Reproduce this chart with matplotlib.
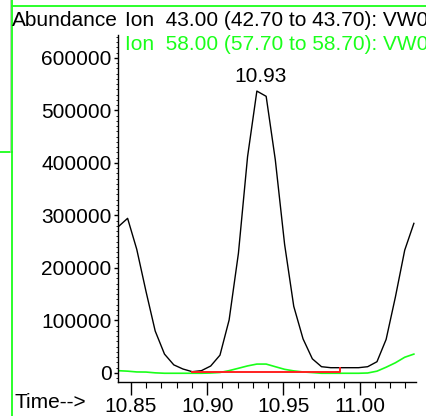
import matplotlib
matplotlib.use('Agg')
import matplotlib.pyplot as plt
from matplotlib.ticker import MultipleLocator
from matplotlib.lines import Line2D

plt.rcParams['font.family'] = ['Liberation Sans', 'DejaVu Sans']

# retention time (min)
times = [10.8417, 10.8478, 10.8538, 10.8599, 10.8659, 10.8720, 10.8781, 10.8841,
         10.8902, 10.8962, 10.9023, 10.9084, 10.9144, 10.9205, 10.9265, 10.9326,
         10.9387, 10.9447, 10.9508, 10.9568, 10.9629, 10.9690, 10.9750, 10.9811,
         10.9871, 10.9932, 10.9993, 11.0053, 11.0114, 11.0174, 11.0235, 11.0296,
         11.0356]

# Ion 43.00 abundance
ion43 = [278700, 294600, 235600, 155000, 80000, 36000, 15500, 7600,
         2500, 4400, 13300, 34000, 101000, 228000, 412000, 537000,
         527000, 406000, 245000, 127000, 65000, 27000, 12000, 10100,
         10100, 10100, 10100, 12000, 21500, 64000, 145000, 234000,
         285000]

# Ion 58.00 abundance
ion58 = [4400, 3500, 2000, 1800, 300, -500, -500, -500,
         -500, -500, 0, 1000, 4500, 9000, 13500, 17000,
         17000, 12000, 7000, 4000, 2000, 800, -500, -500,
         -500, -500, -500, 0, 3500, 11000, 19500, 30000,
         36000]

# integration baseline
base_t = [10.8900, 10.9874, 10.9874]
base_v = [1500, 1500, 9500]

peak_t = 10.9326
peak_v = 537000
peak_label = '10.93'

green = '#1aff1a'

fig = plt.figure(figsize=(4.26, 4.16), dpi=100)
ax = fig.add_axes([118/426, 34/416, 298/426, 347/416])

ax.plot(times, ion43, c='k', lw=1.0)
ax.plot(times, ion58, c=green, lw=1.2)
ax.plot(base_t, base_v, c='#ff2020', lw=1.4)

ax.annotate(peak_label, (peak_t, peak_v), xytext=(2.5, 4), textcoords='offset points',
            ha='center', va='bottom', fontsize=15)

ax.set_xlim(10.8415, 11.037)
ax.set_ylim(-17143, 643800)

ax.spines['top'].set_visible(False)
ax.spines['right'].set_visible(False)
ax.spines['left'].set_linewidth(1.0)
ax.spines['bottom'].set_linewidth(1.0)

ax.xaxis.set_major_locator(MultipleLocator(0.05))
ax.xaxis.set_minor_locator(MultipleLocator(0.01))
ax.yaxis.set_major_locator(MultipleLocator(100000))
ax.yaxis.set_minor_locator(MultipleLocator(10000))
ax.xaxis.set_major_formatter(plt.FuncFormatter(lambda v, p: '%.2f' % v))
ax.yaxis.set_major_formatter(plt.FuncFormatter(lambda v, p: '%d' % v))

ax.tick_params(axis='x', which='major', direction='out', length=9, width=1, pad=2, labelsize=15)
ax.tick_params(axis='x', which='minor', direction='out', length=4.5, width=0.8)
ax.tick_params(axis='y', which='major', direction='out', length=3, width=1, pad=1.5, labelsize=15)
ax.tick_params(axis='y', which='minor', direction='out', length=1.5, width=0.6)

# header text
fig.text(12/426, 1 - 20/416, 'Abundance', fontsize=15, va='center', ha='left')
fig.text(125/426, 1 - 20/416, 'Ion  43.00 (42.70 to 43.70): VW06.D\\data.ms',
         fontsize=15, va='center', ha='left', color='k')
fig.text(125/426, 1 - 45/416, 'Ion  58.00 (57.70 to 58.70): VW06.D\\data.ms',
         fontsize=15, va='center', ha='left', color=green)
fig.text(14/426, 1 - 403/416, 'Time-->', fontsize=15, va='center', ha='left')

# window frame
fig.add_artist(Line2D([11.7/426, 11.7/426], [0, 1], color=green, lw=1.3, transform=fig.transFigure))
fig.add_artist(Line2D([11.7/426, 1], [1 - 6/416, 1 - 6/416], color=green, lw=1.3, transform=fig.transFigure))
fig.add_artist(Line2D([0, 11.7/426], [1 - 152/416, 1 - 152/416], color=green, lw=1.3, transform=fig.transFigure))
fig.add_artist(Line2D([10/426, 10/426], [1 - 152/416, 1], color='#bbbbbb', lw=0.6, transform=fig.transFigure))

fig.savefig('out.png', dpi=100)
